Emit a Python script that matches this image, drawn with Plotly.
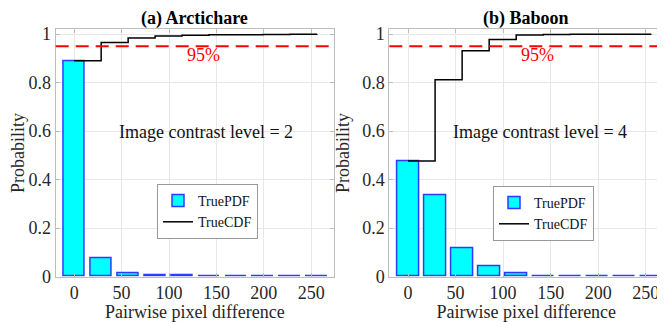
import plotly.graph_objects as go

# ---- data ----
bin_centers = [0, 28.44, 56.89, 85.33, 113.78, 142.22, 170.67, 199.11, 227.56, 256]
pdf_a = [0.89, 0.075, 0.016, 0.007, 0.004, 0.002, 0.001, 0.001, 0.0007, 0.0003]
cdf_a = [0.89, 0.966, 0.984, 0.992, 0.995, 0.997, 0.998, 0.999, 0.9997, 1.0]
pdf_b = [0.477, 0.334, 0.118, 0.043, 0.013, 0.003, 0.001, 0.001, 0.0007, 0.0003]
cdf_b = [0.477, 0.812, 0.932, 0.978, 0.996, 0.999, 1.0, 1.0, 1.0, 1.0]
titles = ["(a) Arctichare", "(b) Baboon"]
contrast_text = ["Image contrast level = 2", "Image contrast level = 4"]
x_ticks = [0, 50, 100, 150, 200, 250]
y_ticks = [0, 0.2, 0.4, 0.6, 0.8, 1]
y_ticklabels = ["0", "0.2", "0.4", "0.6", "0.8", "1"]
threshold = 0.95
threshold_label = "95%"

FONT = "Liberation Serif, serif"
fig = go.Figure()

# the page body keeps an 8px margin, so the figure fills the rest of the window
W, H = 657, 314

panels = [
    dict(pdf=pdf_a, cdf=cdf_a, xa="x", ya="y", dom=[0.0726, 0.4962], xr=[-19.5, 274], leg="legend"),
    dict(pdf=pdf_b, cdf=cdf_b, xa="x2", ya="y2", dom=[0.5804, 0.9974], xr=[-19.7, 268.5], leg="legend2"),
]

for i, p in enumerate(panels):
    fig.add_trace(go.Bar(
        x=bin_centers, y=p["pdf"], width=22.8, name="TruePDF",
        marker=dict(color="#00FFFF", line=dict(color="#2a3cff", width=1.5)),
        xaxis=p["xa"], yaxis=p["ya"], legend=p["leg"],
    ))
    fig.add_trace(go.Scatter(
        x=bin_centers, y=p["cdf"], mode="lines", name="TrueCDF",
        line=dict(color="black", width=1.5, shape="hv"),
        xaxis=p["xa"], yaxis=p["ya"], legend=p["leg"],
    ))

axis_common = dict(
    showgrid=True, gridcolor="#e8e8e8", gridwidth=1,
    showline=True, linecolor="#bdbdbd", linewidth=1, mirror="ticks",
    ticks="inside", ticklen=4, tickcolor="#bdbdbd",
    tickfont=dict(family=FONT, size=18, color="#262626"),
    zeroline=False, automargin=False,
)

layout = dict(
    width=W, height=H, margin=dict(l=0, r=0, t=0, b=0, autoexpand=False),
    paper_bgcolor="white", plot_bgcolor="white",
    font=dict(family=FONT, size=16, color="#262626"),
    bargap=0, showlegend=True,
)
for i, p in enumerate(panels):
    sx = "" if i == 0 else "2"
    layout["xaxis" + sx] = dict(axis_common, domain=p["dom"], range=p["xr"],
                                tickvals=x_ticks, anchor="y" + sx,
                                title=dict(text="Pairwise pixel difference",
                                           font=dict(family=FONT, size=18, color="#262626"),
                                           standoff=4))
    layout["yaxis" + sx] = dict(axis_common, domain=[0.1443, 0.9322], range=[0, 1.02],
                                tickvals=y_ticks, ticktext=y_ticklabels, anchor="x" + sx,
                                title=dict(text="Probability",
                                           font=dict(family=FONT, size=18, color="#262626"),
                                           standoff=7))
legend_common = dict(
    bgcolor="white", bordercolor="#999999", borderwidth=1,
    font=dict(family=FONT, size=14, color="#111111"),
    xanchor="left", yanchor="top", tracegroupgap=0, itemwidth=30,
)
layout["legend"] = dict(legend_common, x=0.2268, y=0.4395)
layout["legend2"] = dict(legend_common, x=0.7382, y=0.4331)
fig.update_layout(**layout)

for i, p in enumerate(panels):
    xa, ya = p["xa"], p["ya"]
    fig.add_shape(type="line", xref=xa + " domain", yref=ya, x0=0, x1=1, y0=threshold, y1=threshold,
                  line=dict(color="#ff0000", width=2, dash="13px,7px"))
    fig.add_annotation(x=136, y=0.913, xref=xa, yref=ya, text=threshold_label, showarrow=False,
                       font=dict(family=FONT, size=18, color="#ff0000"))
    fig.add_annotation(x=139, y=0.597, xref=xa, yref=ya, text=contrast_text[i], showarrow=False,
                       font=dict(family=FONT, size=18, color="#111111"))
    fig.add_annotation(x=0.5, y=1, xref=xa + " domain", yref=ya + " domain", yshift=11,
                       text="<b>" + titles[i] + "</b>", showarrow=False, yanchor="middle",
                       font=dict(family=FONT, size=18, color="black"))

fig.write_html("out.html")
